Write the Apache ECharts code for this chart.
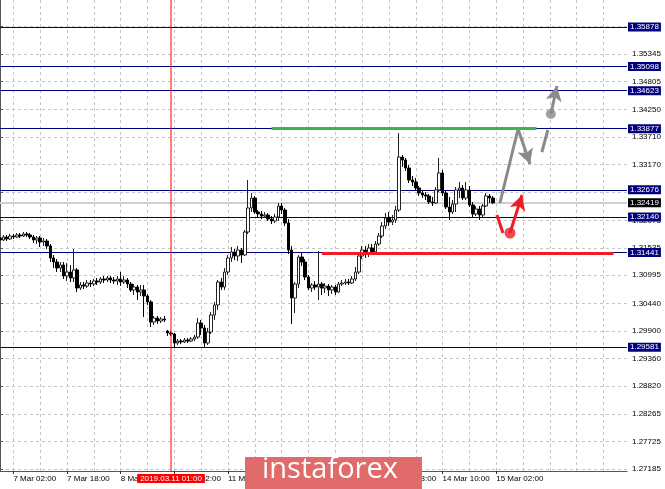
<!DOCTYPE html>
<html>
<head>
<meta charset="utf-8">
<script src="https://cdn.jsdelivr.net/npm/echarts@6/dist/echarts.min.js"></script>
<style>
html,body{margin:0;padding:0;background:#fff;}
#c{width:665px;height:489px;}
</style>
</head>
<body>
<div id="c"></div>
<script>
// ---- Data (H1 candles) ----
const tradingDays = ['6 Mar','7 Mar','8 Mar','11 Mar','12 Mar','13 Mar','14 Mar','15 Mar','18 Mar'];
const firstHour = 22;          // series starts at 6 Mar 22:00
const totalSlots = 188;        // candles + empty future slots

const opens = [1.31728,1.31689,1.31748,1.31708,1.31767,1.31748,1.31787,1.31767,1.31807,1.31787,
1.31748,1.31689,1.31728,1.31649,1.31669,1.31571,1.31335,1.31256,1.31138,1.31197,
1.30981,1.31059,1.30941,1.31099,1.30745,1.30804,1.30784,1.30843,1.30823,1.30882,
1.30863,1.30922,1.30902,1.30941,1.30902,1.30882,1.30922,1.30863,1.30902,1.30823,
1.30706,1.30764,1.30666,1.30706,1.30588,1.30470,1.30076,1.30155,1.30096,1.30135,
1.29899,1.29860,1.29840,1.29663,1.29702,1.29683,1.29722,1.29702,1.29742,1.29781,
1.30057,1.29958,1.29663,1.29880,1.30214,1.30411,1.30863,1.30764,1.31059,1.31335,
1.31453,1.31374,1.31492,1.31394,1.31846,1.32318,1.32514,1.32239,1.32200,1.32160,
1.32180,1.32101,1.32062,1.32141,1.32357,1.32278,1.32023,1.31492,1.30548,1.30823,
1.31354,1.31256,1.30961,1.30745,1.30804,1.30764,1.30823,1.30745,1.30784,1.30706,
1.30764,1.30666,1.30823,1.30843,1.30863,1.30843,1.30922,1.31059,1.31374,1.31492,
1.31413,1.31531,1.31453,1.31610,1.31767,1.31964,1.32121,1.32042,1.32082,1.32278,
1.33320,1.33261,1.33104,1.32868,1.32829,1.32711,1.32613,1.32573,1.32554,1.32436,
1.32416,1.32672,1.33006,1.32613,1.32337,1.32239,1.32396,1.32672,1.32711,1.32514,
1.32672,1.32377,1.32200,1.32298,1.32180,1.32357,1.32554,1.32514];

const closes = [1.31689,1.31748,1.31708,1.31767,1.31748,1.31787,1.31767,1.31807,1.31787,1.31748,
1.31689,1.31728,1.31649,1.31669,1.31571,1.31335,1.31256,1.31138,1.31197,1.30981,
1.31059,1.30941,1.31099,1.30745,1.30804,1.30784,1.30843,1.30823,1.30882,1.30863,
1.30922,1.30902,1.30941,1.30902,1.30882,1.30922,1.30863,1.30902,1.30823,1.30706,
1.30764,1.30666,1.30706,1.30588,1.30470,1.30076,1.30155,1.30096,1.30135,1.30116,
1.29860,1.29840,1.29663,1.29702,1.29683,1.29722,1.29702,1.29742,1.29781,1.30057,
1.29958,1.29663,1.29880,1.30214,1.30411,1.30863,1.30764,1.31059,1.31335,1.31453,
1.31374,1.31492,1.31394,1.31846,1.32318,1.32514,1.32239,1.32200,1.32160,1.32180,
1.32101,1.32062,1.32141,1.32357,1.32278,1.32023,1.31492,1.30548,1.30823,1.31354,
1.31256,1.30961,1.30745,1.30804,1.30764,1.30823,1.30745,1.30784,1.30706,1.30764,
1.30666,1.30823,1.30843,1.30863,1.30843,1.30922,1.31059,1.31374,1.31492,1.31413,
1.31531,1.31453,1.31610,1.31767,1.31964,1.32121,1.32042,1.32082,1.32278,1.33320,
1.33261,1.33104,1.32868,1.32829,1.32711,1.32613,1.32573,1.32554,1.32436,1.32416,
1.32672,1.33006,1.32613,1.32337,1.32239,1.32396,1.32672,1.32711,1.32514,1.32672,
1.32377,1.32200,1.32298,1.32180,1.32357,1.32554,1.32514,1.32419];

const lows = [1.31649,1.31669,1.31669,1.31689,1.31708,1.31728,1.31728,1.31748,1.31748,1.31708,
1.31630,1.31610,1.31551,1.31571,1.31512,1.31256,1.31138,1.31059,1.31059,1.30922,
1.30882,1.30863,1.30863,1.30666,1.30706,1.30725,1.30745,1.30764,1.30784,1.30804,
1.30823,1.30843,1.30863,1.30843,1.30823,1.30804,1.30784,1.30823,1.30745,1.30666,
1.30607,1.30509,1.30588,1.30175,1.30411,1.29978,1.30017,1.30037,1.30057,1.30076,
1.29801,1.29801,1.29565,1.29624,1.29643,1.29663,1.29663,1.29683,1.29702,1.29742,
1.29820,1.29584,1.29624,1.29840,1.30116,1.30312,1.30706,1.30706,1.31000,1.31256,
1.31295,1.31276,1.31236,1.31374,1.31807,1.32239,1.32200,1.32141,1.32101,1.32121,
1.32062,1.32003,1.32023,1.32062,1.32200,1.31964,1.31413,1.30037,1.30253,1.30745,
1.31177,1.30902,1.30706,1.30666,1.30706,1.30509,1.30607,1.30647,1.30588,1.30627,
1.30607,1.30647,1.30784,1.30804,1.30804,1.30823,1.30882,1.31020,1.31315,1.31335,
1.31354,1.31394,1.31413,1.31571,1.31728,1.31905,1.31964,1.31983,1.32023,1.32239,
1.33124,1.33045,1.32809,1.32750,1.32672,1.32554,1.32514,1.32475,1.32396,1.32357,
1.32396,1.32632,1.32554,1.32298,1.32082,1.32200,1.32239,1.32514,1.32475,1.32475,
1.32337,1.32141,1.32160,1.32082,1.32121,1.32337,1.32416,1.32396];

const highs = [1.31787,1.31787,1.31787,1.31807,1.31807,1.31826,1.31826,1.31846,1.31846,1.31826,
1.31787,1.31767,1.31767,1.31728,1.31708,1.31610,1.31394,1.31315,1.31256,1.31256,
1.31236,1.31197,1.31512,1.31138,1.30863,1.30863,1.30902,1.30902,1.30922,1.30941,
1.30961,1.30981,1.30981,1.30981,1.30961,1.30981,1.31059,1.30981,1.30941,1.30863,
1.30823,1.30804,1.30804,1.30804,1.30627,1.30509,1.30194,1.30194,1.30175,1.30194,
1.29919,1.29899,1.29860,1.29742,1.29742,1.29761,1.29761,1.29781,1.29820,1.30155,
1.30116,1.30017,1.29958,1.30273,1.30470,1.30902,1.30941,1.31138,1.31394,1.31551,
1.31512,1.31571,1.31531,1.31885,1.32868,1.32613,1.32554,1.32278,1.32259,1.32239,
1.32219,1.32160,1.32200,1.32416,1.32416,1.32318,1.32101,1.31571,1.30863,1.31394,
1.31453,1.31315,1.31000,1.30843,1.30882,1.31472,1.30863,1.30843,1.30823,1.30804,
1.30804,1.30863,1.30902,1.30922,1.30922,1.30981,1.31158,1.31433,1.31571,1.31571,
1.31610,1.31610,1.31669,1.31826,1.32042,1.32219,1.32239,1.32180,1.32357,1.33792,
1.33360,1.33301,1.33163,1.32947,1.32908,1.32750,1.32672,1.32632,1.32593,1.32534,
1.32731,1.33301,1.33065,1.32652,1.32534,1.32475,1.32731,1.32829,1.32770,1.32829,
1.32750,1.32436,1.32357,1.32357,1.32396,1.32613,1.32593,1.32554];

// price axis
const priceMin = 1.27147, priceMax = 1.36407;
const yTicks = [1.27185,1.27725,1.28265,1.28820,1.29360,1.29900,1.30440,1.30995,1.31535,1.32075,1.32630,1.33170,1.33710,1.34250,1.34805,1.35345,1.35885];

// levels
const levels = [1.35878,1.35098,1.34623,1.33877,1.32676,1.32140,1.31441,1.29581];
const currentPrice = 1.32419;
const markerBarIndex = 51;   // 2019.03.11 01:00
const markerText = '2019.03.11 01:00';
// zones [startIndex, endIndex, price]
const greenZone = [81, 160, 1.33880];
const redZone = [96, 183, 1.31430];
// scenario paths [index, price]
const greyPath = [[149.1,1.32416],[154.5,1.33871],[158.1,1.33183]];
const greyDash = [[161.6,1.33419],[163.4,1.33851]];
const greyDot = [164.3,1.34166];
const greyTip = [166.1,1.34716];
const redPath = [[148.2,1.32180],[150.0,1.31826]];
const redDot = [152.1,1.31826];
const redTip = [155.7,1.32573];

// ---- build ----
const cats = [];
for (let d = 0; d < tradingDays.length && cats.length < totalSlots; d++) {
  for (let h = (d === 0 ? firstHour : 0); h < 24 && cats.length < totalSlots; h++) {
    cats.push(tradingDays[d] + ' ' + (h < 10 ? '0' : '') + h + ':00');
  }
}
const candles = opens.map((o, i) => [o, closes[i], lows[i], highs[i]]);
const lastCandle = opens.length;
const xEnd = totalSlots - 1;

const FONT = 'Liberation Sans';
const NAVY = '#00007f';
const GREY = '#8a8a8a';
const RED = '#ee1c25';

const tag = (v, bg) => ({show: true, position: 'end', distance: 1, formatter: v.toFixed(5),
  backgroundColor: bg, color: '#fff', fontSize: 8, fontFamily: FONT, padding: [1, 2, 0, 2]});

const hLine = (v, color, width, label) => [
  {coord: [0, v], symbol: 'none', lineStyle: {color: color, width: width, type: 'solid'}, label: label},
  {coord: [xEnd, v], symbol: 'none'}
];

const levelLines = [hLine(currentPrice, '#cfcfcf', 2, tag(currentPrice, '#000'))]
  .concat(levels.map(v => hLine(v, NAVY, 1, tag(v, NAVY))));

const seg = (a, b, arrow, color) => [
  {coord: a, symbol: 'none', lineStyle: {color: color, width: 3, type: 'solid'}, label: {show: false}},
  {coord: b, symbol: arrow ? 'arrow' : 'none', symbolSize: [12, 15]}
];

const chart = echarts.init(document.getElementById('c'), null, {renderer: 'canvas'});
chart.setOption({
  animation: false,
  backgroundColor: '#ffffff',
  grid: {left: 0, right: 38, top: 0, bottom: 18},
  xAxis: [{
    type: 'category', data: cats, boundaryGap: false,
    axisLine: {show: true, lineStyle: {color: '#555', width: 1}},
    axisTick: {show: true, length: 3, inside: false, lineStyle: {color: '#333'},
      interval: (i) => i % 16 === 4 && i <= lastCandle},
    axisLabel: {show: true, interval: (i) => i % 16 === 4 && i <= lastCandle,
      align: 'left', margin: 4, fontSize: 8, fontFamily: FONT, color: '#000'},
    splitLine: {show: true, interval: (i) => i % 8 === 4,
      lineStyle: {color: '#c6c6c6', type: [3, 3], width: 1}}
  }, {
    type: 'value', min: 0, max: xEnd, show: false
  }],
  yAxis: {
    type: 'value', position: 'right', min: priceMin, max: priceMax, scale: true,
    axisLine: {show: true, lineStyle: {color: '#555', width: 1}},
    axisTick: {show: true, length: 3, customValues: yTicks, lineStyle: {color: '#555'}},
    axisLabel: {show: true, customValues: yTicks, margin: 5, fontSize: 8, fontFamily: FONT,
      color: '#000', formatter: v => v.toFixed(5)},
    splitLine: {show: true, lineStyle: {color: '#c6c6c6', type: [3, 3], width: 1}}
  },
  series: [{
    type: 'scatter', xAxisIndex: 1, data: [], z: 1,
    markLine: {silent: true, animation: false, symbol: ['none', 'none'], z: 1, data: levelLines}
  }, {
    type: 'candlestick',
    data: candles,
    barWidth: 3, z: 3,
    itemStyle: {color: '#ffffff', color0: '#000000', borderColor: '#222', borderColor0: '#000', borderWidth: 1}
  }, {
    // time marker line
    type: 'line', xAxisIndex: 1, z: 4, silent: true, symbol: 'none',
    data: [[markerBarIndex, priceMin], [markerBarIndex, priceMax]],
    lineStyle: {color: '#ff0000', width: 1},
    markLine: {silent: true, animation: false, symbol: ['none', 'none'], z: 8, data: [
      [{coord: [markerBarIndex, priceMin], symbol: 'none', lineStyle: {color: 'rgba(255,0,0,0)', width: 1},
        label: {show: true, position: 'start', distance: 3, formatter: markerText,
          backgroundColor: '#ff0000', color: '#fff', fontSize: 8, fontFamily: FONT, padding: [1, 3, 0, 3]}},
       {coord: [markerBarIndex, priceMax], symbol: 'none'}]
    ]}
  }, {
    type: 'scatter', xAxisIndex: 1, data: [greyDot], symbolSize: 10,
    itemStyle: {color: GREY}, z: 6,
    markLine: {silent: true, animation: false, symbol: ['none', 'none'], z: 6, data: [
      [{coord: [greenZone[0], greenZone[2]], symbol: 'none', lineStyle: {color: '#3cb44b', width: 3, type: 'solid'}, label: {show: false}},
       {coord: [greenZone[1], greenZone[2]], symbol: 'none'}],
      seg(greyPath[0], greyPath[1], false, GREY),
      seg(greyPath[1], greyPath[2], true, GREY),
      seg(greyDash[0], greyDash[1], false, GREY),
      seg(greyDot, greyTip, true, GREY)
    ]}
  }, {
    type: 'scatter', xAxisIndex: 1, data: [redDot], symbolSize: 11,
    itemStyle: {color: RED}, z: 7,
    markLine: {silent: true, animation: false, symbol: ['none', 'none'], z: 7, data: [
      [{coord: [redZone[0], redZone[2]], symbol: 'none', lineStyle: {color: RED, width: 3, type: 'solid'}, label: {show: false}},
       {coord: [redZone[1], redZone[2]], symbol: 'none'}],
      seg(redPath[0], redPath[1], false, RED),
      seg(redDot, redTip, true, RED)
    ]}
  }],
  graphic: [
    {type: 'rect', z: 100, zlevel: 1, left: 245, top: 457, shape: {width: 177, height: 32}, style: {fill: '#e16a6a'}},
    {type: 'text', z: 101, zlevel: 1, left: 262, top: 455,
      style: {text: 'instaforex', fill: '#ffffff', font: '29px "Open Sans"'}}
  ]
});
</script>
</body>
</html>
